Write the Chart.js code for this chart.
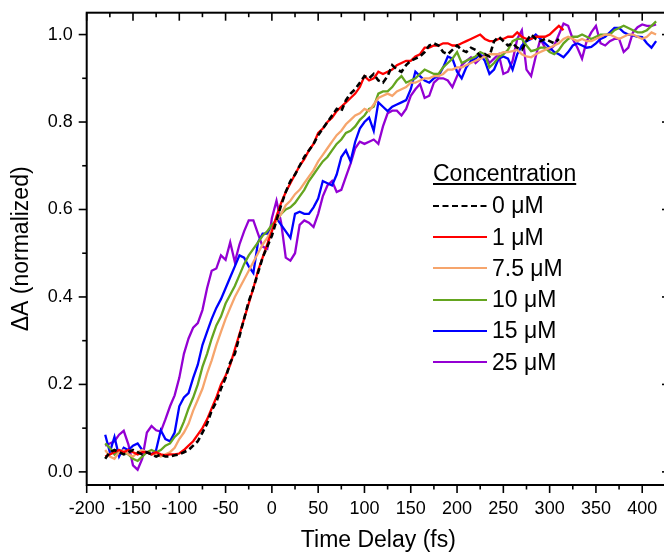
<!DOCTYPE html>
<html lang="en">
<head>
    <meta charset="UTF-8">
    <title>Delta A vs time delay</title>
    <script src="https://cdn.jsdelivr.net/npm/chart.js"></script>
    <style>
        body { margin: 0; background: #ffffff; }
        #wrap { position: relative; width: 664px; height: 554px; overflow: hidden; }
        #chart { position: absolute; left: 0; top: 0; }
        #legend { position: absolute; left: 0; top: 0; font-family: 'Liberation Sans', Arial, sans-serif; font-size: 23px; color: #000; }
        #legend .title { position: absolute; left: 433px; top: 160px; line-height: 27px; text-decoration: underline; text-underline-offset: 2px; white-space: nowrap; }
        #legend .row { position: absolute; left: 433px; height: 27px; display: flex; align-items: center; white-space: nowrap; }
        #legend .row svg { display: block; }
        #legend .row span { margin-left: 5px; line-height: 27px; }
    </style>
</head>
<body>
<div id="wrap">
    <canvas id="chart" width="670" height="554"></canvas>
    <div id="legend"></div>
</div>

<script>
    // sample times (fs)
    const delays = [
        -180, -175, -170, -165, -160, -155, -150, -145, -140, -135,
        -130, -125, -120, -115, -110, -105, -100, -95, -90, -85,
        -80, -75, -70, -65, -60, -55, -50, -45, -40, -35,
        -30, -25, -20, -15, -10, -5, 0, 5, 10, 15,
        20, 25, 30, 35, 40, 45, 50, 55, 60, 65,
        70, 75, 80, 85, 90, 95, 100, 105, 110, 115,
        120, 125, 130, 135, 140, 145, 150, 155, 160, 165,
        170, 175, 180, 185, 190, 195, 200, 205, 210, 215,
        220, 225, 230, 235, 240, 245, 250, 255, 260, 265,
        270, 275, 280, 285, 290, 295, 300, 305, 310, 315,
        320, 325, 330, 335, 340, 345, 350, 355, 360, 365,
        370, 375, 380, 385, 390, 395, 400, 405, 410, 415
    ];

    const conc0 = [
        0.030, 0.045, 0.050, 0.045, 0.040, 0.045, 0.050, 0.045, 0.040, 0.045,
        0.040, 0.035, 0.040, 0.035, 0.035, 0.038, 0.040, 0.045, 0.050, 0.060,
        0.070, 0.090, 0.110, 0.140, 0.160, 0.190, 0.215, 0.250, 0.270, 0.310,
        0.350, 0.390, 0.420, 0.455, 0.490, 0.515, 0.540, 0.575, 0.610, 0.640,
        0.665, 0.680, 0.700, 0.720, 0.735, 0.750, 0.770, 0.785, 0.800, 0.815,
        0.830, 0.825, 0.850, 0.865, 0.875, 0.890, 0.905, 0.900, 0.910, 0.895,
        0.890, 0.905, 0.930, 0.920, 0.915, 0.930, 0.940, 0.945, 0.950, 0.960,
        0.975, 0.980, 0.975, 0.960, 0.955, 0.965, 0.975, 0.965, 0.960, 0.970,
        0.965, 0.950, 0.955, 0.950, 0.985, 0.995, 0.985, 0.975, 0.980, 0.970,
        0.965, 0.985, 1.000, 0.990, 0.985, 0.990, 0.985, 0.980, 0.990, null,
        null, null, null, null, null, null, null, null, null, null,
        null, null, null, null, null, null, null, null, null, null
    ];

    const conc1 = [
        0.035, 0.040, 0.045, 0.050, 0.045, 0.050, 0.045, 0.040, 0.045, 0.045,
        0.040, 0.045, 0.040, 0.038, 0.040, 0.040, 0.042, 0.050, 0.060, 0.070,
        0.085, 0.100, 0.120, 0.145, 0.170, 0.200, 0.220, 0.245, 0.280, 0.315,
        0.350, 0.385, 0.420, 0.460, 0.490, 0.520, 0.550, 0.585, 0.615, 0.640,
        0.660, 0.680, 0.700, 0.715, 0.735, 0.750, 0.775, 0.785, 0.800, 0.810,
        0.825, 0.835, 0.845, 0.855, 0.865, 0.880, 0.905, 0.895, 0.900, 0.915,
        0.910, 0.915, 0.920, 0.930, 0.935, 0.940, 0.940, 0.950, 0.955, 0.970,
        0.970, 0.975, 0.975, 0.980, 0.980, 0.975, 0.975, 0.980, 0.985, 0.990,
        0.995, 1.000, 0.990, 0.985, 0.985, 0.990, 0.990, 0.995, 0.995, 1.005,
        0.995, 0.990, 0.990, 0.995, 0.995, 0.995, 1.000, 1.010, 1.020, 1.010,
        null, null, null, null, null, null, null, null, null, null,
        null, null, null, null, null, null, null, null, null, null
    ];

    const conc7_5 = [
        0.050, 0.035, 0.030, 0.045, 0.050, 0.040, 0.035, 0.045, 0.050, 0.045,
        0.040, 0.040, 0.035, 0.040, 0.045, 0.055, 0.075, 0.090, 0.110, 0.140,
        0.165, 0.190, 0.225, 0.255, 0.290, 0.320, 0.350, 0.375, 0.400, 0.420,
        0.440, 0.460, 0.480, 0.500, 0.520, 0.535, 0.555, 0.575, 0.590, 0.610,
        0.620, 0.635, 0.645, 0.660, 0.675, 0.690, 0.710, 0.725, 0.740, 0.755,
        0.770, 0.780, 0.795, 0.805, 0.815, 0.820, 0.830, 0.825, 0.840, 0.855,
        0.860, 0.865, 0.860, 0.870, 0.875, 0.880, 0.890, 0.890, 0.895, 0.900,
        0.900, 0.905, 0.905, 0.910, 0.920, 0.920, 0.925, 0.925, 0.930, 0.935,
        0.940, 0.945, 0.950, 0.955, 0.955, 0.955, 0.960, 0.960, 0.962, 0.965,
        0.955, 0.950, 0.948, 0.955, 0.960, 0.965, 0.970, 0.975, 0.980, 0.990,
        0.995, 0.990, 0.985, 0.990, 0.985, 0.985, 0.990, 0.995, 1.000, 1.000,
        0.995, 0.990, 0.995, 1.000, 1.000, 0.995, 0.990, 0.995, 1.005, 1.000
    ];

    const conc10 = [
        0.065, 0.055, 0.040, 0.050, 0.045, 0.040, 0.030, 0.025, 0.035, 0.045,
        0.050, 0.045, 0.050, 0.060, 0.065, 0.080, 0.090, 0.115, 0.145, 0.170,
        0.200, 0.240, 0.270, 0.305, 0.335, 0.355, 0.385, 0.405, 0.425, 0.450,
        0.475, 0.495, 0.510, 0.525, 0.540, 0.550, 0.565, 0.575, 0.590, 0.600,
        0.605, 0.615, 0.630, 0.645, 0.665, 0.680, 0.695, 0.710, 0.720, 0.735,
        0.750, 0.760, 0.775, 0.780, 0.790, 0.805, 0.815, 0.830, 0.835, 0.865,
        0.870, 0.870, 0.880, 0.895, 0.905, 0.890, 0.895, 0.900, 0.910, 0.920,
        0.915, 0.910, 0.910, 0.925, 0.935, 0.945, 0.960, 0.935, 0.940, 0.945,
        0.950, 0.960, 0.955, 0.925, 0.935, 0.948, 0.955, 0.965, 0.985, 0.990,
        0.990, 0.975, 0.962, 0.965, 0.970, 0.970, 0.960, 0.955, 0.965, 0.980,
        0.990, 0.995, 0.995, 1.000, 0.995, 0.990, 0.995, 1.000, 1.000, 1.000,
        1.010, 1.015, 1.020, 1.015, 1.010, 1.005, 1.005, 1.010, 1.020, 1.030
    ];

    const conc15 = [
        0.085, 0.045, 0.080, 0.035, 0.055, 0.050, 0.060, 0.065, 0.050, 0.045,
        0.040, 0.050, 0.095, 0.075, 0.070, 0.090, 0.150, 0.170, 0.180, 0.215,
        0.245, 0.290, 0.320, 0.350, 0.375, 0.395, 0.420, 0.445, 0.470, 0.495,
        0.490, 0.470, 0.455, 0.525, 0.545, 0.545, 0.555, 0.580, 0.565, 0.550,
        0.535, 0.590, 0.595, 0.590, 0.590, 0.605, 0.625, 0.665, 0.660, 0.655,
        0.680, 0.720, 0.735, 0.710, 0.755, 0.785, 0.800, 0.810, 0.780, 0.845,
        0.835, 0.825, 0.835, 0.840, 0.845, 0.850, 0.875, 0.915, 0.905, 0.895,
        0.890, 0.900, 0.905, 0.925, 0.950, 0.945, 0.915, 0.900, 0.925, 0.940,
        0.945, 0.955, 0.940, 0.910, 0.920, 0.945, 0.950, 0.945, 0.920, 0.955,
        0.975, 0.985, 0.990, 1.000, 0.990, 0.980, 0.970, 0.960, 0.955, 0.948,
        0.960, 0.975, 0.980, 0.975, 0.970, 0.972, 0.980, 0.990, 0.995, 1.005,
        1.015, 1.015, 1.005, 1.000, 0.998, 0.995, 0.994, 0.980, 0.970, 0.985
    ];

    const conc25 = [
        0.060, 0.065, 0.070, 0.085, 0.094, 0.063, 0.015, 0.005, 0.030, 0.090,
        0.105, 0.095, 0.092, 0.120, 0.150, 0.175, 0.215, 0.270, 0.305, 0.330,
        0.340, 0.370, 0.420, 0.460, 0.465, 0.495, 0.485, 0.525, 0.480, 0.520,
        0.550, 0.575, 0.575, 0.545, 0.515, 0.510, 0.580, 0.620, 0.570, 0.490,
        0.483, 0.500, 0.565, 0.575, 0.570, 0.560, 0.590, 0.630, 0.655, 0.665,
        0.640, 0.645, 0.675, 0.705, 0.740, 0.755, 0.750, 0.755, 0.760, 0.750,
        0.790, 0.820, 0.826, 0.826, 0.815, 0.830, 0.860, 0.875, 0.887, 0.855,
        0.860, 0.890, 0.900, 0.900, 0.895, 0.880, 0.905, 0.930, 0.940, 0.948,
        0.935, 0.945, 0.955, 0.935, 0.945, 0.955, 0.910, 0.915, 0.940, 0.990,
        1.010, 0.920, 0.905, 0.950, 0.990, 0.970, 0.965, 0.975, 1.000, 1.025,
        1.020, 0.990, 0.970, 0.945, 0.985, 1.005, 1.020, 0.980, 0.975, 0.985,
        0.990, 0.990, 0.960, 0.970, 1.005, 1.017, 1.023, 1.020, 1.020, 1.023
    ];

    const seriesLabels = ['0 \u03bcM', '1 \u03bcM', '7.5 \u03bcM', '10 \u03bcM', '15 \u03bcM', '25 \u03bcM'];
    const seriesValues = [conc0, conc1, conc7_5, conc10, conc15, conc25];
    const seriesColors = ['#000000', '#ff0000', '#f6a56c', '#64a51f', '#0000ff', '#9400d3'];

    const xTicks = [-200, -150, -100, -50, 0, 50, 100, 150, 200, 250, 300, 350, 400];
    const yTicks = [0.0, 0.2, 0.4, 0.6, 0.8, 1.0];

    const X_MIN = -200, X_MAX = 430;
    const Y_MIN = -0.03, Y_MAX = 1.05;

    const FONT = "'Liberation Sans', Arial, sans-serif";

    // frame on all four sides with major + minor ticks (out on left/bottom, in on top/right)
    const frameTicks = {
        id: 'frameTicks',
        afterDraw(chart) {
            const { ctx, chartArea: a, scales: { x, y } } = chart;
            const MAJOR = 8, MINOR = 4.5;
            const seg = (x1, y1, x2, y2) => { ctx.beginPath(); ctx.moveTo(x1, y1); ctx.lineTo(x2, y2); ctx.stroke(); };
            ctx.save();
            ctx.strokeStyle = '#000';
            ctx.lineWidth = 1.6;
            const xs = [];
            xTicks.forEach((v, i) => {
                xs.push([v, MAJOR]);
                const next = i < xTicks.length - 1 ? xTicks[i + 1] : v + (v - xTicks[i - 1]);
                xs.push([(v + next) / 2, MINOR]);
            });
            xs.forEach(([v, len]) => {
                if (v < X_MIN || v > X_MAX) return;
                const px = x.getPixelForValue(v);
                seg(px, a.bottom, px, a.bottom + len);
                seg(px, a.top, px, a.top + len);
            });
            const ys = [];
            yTicks.forEach((v, i) => {
                ys.push([v, MAJOR]);
                if (i < yTicks.length - 1) ys.push([(v + yTicks[i + 1]) / 2, MINOR]);
            });
            ys.forEach(([v, len]) => {
                const py = y.getPixelForValue(v);
                seg(a.left - len, py, a.left, py);
                seg(a.right - len, py, a.right, py);
            });
            ctx.lineWidth = 2;
            ctx.strokeRect(a.left, a.top, a.right - a.left, a.bottom - a.top);
            ctx.restore();
        }
    };

    const datasets = seriesValues.map((vals, i) => ({
        label: seriesLabels[i],
        data: delays.map((t, j) => ({ x: t, y: vals[j] })),
        borderColor: seriesColors[i],
        backgroundColor: seriesColors[i],
        borderWidth: i === 0 ? 2.6 : 2.3,
        borderDash: i === 0 ? [6, 3.5] : [],
        pointRadius: 0,
        tension: 0,
        fill: false
    }));

    const chart = new Chart(document.getElementById('chart'), {
        type: 'line',
        data: { datasets },
        options: {
            responsive: false,
            animation: false,
            layout: { padding: { top: 12.7, right: 0, bottom: 0, left: 0 } },
            plugins: { legend: { display: false }, tooltip: { enabled: false } },
            scales: {
                x: {
                    type: 'linear',
                    min: X_MIN,
                    max: X_MAX,
                    grid: { display: false, drawTicks: false },
                    border: { display: false },
                    afterBuildTicks: s => { s.ticks = xTicks.map(v => ({ value: v })); },
                    afterFit: s => { s.height = 69; s.paddingLeft = 0; s.paddingRight = 0; },
                    ticks: {
                        padding: 13,
                        color: '#000',
                        maxRotation: 0,
                        autoSkip: false,
                        font: { family: FONT, size: 18 },
                        callback: v => String(v)
                    },
                    title: {
                        display: true,
                        text: 'Time Delay (fs)',
                        color: '#000',
                        font: { family: FONT, size: 23 },
                        padding: { top: 0, bottom: 0 }
                    }
                },
                y: {
                    min: Y_MIN,
                    max: Y_MAX,
                    grid: { display: false, drawTicks: false },
                    border: { display: false },
                    afterBuildTicks: s => { s.ticks = yTicks.map(v => ({ value: v })); },
                    afterFit: s => { s.width = 86.7; s.paddingTop = 0; s.paddingBottom = 0; },
                    ticks: {
                        padding: 14,
                        color: '#000',
                        autoSkip: false,
                        font: { family: FONT, size: 18 },
                        callback: v => Number(v).toFixed(1)
                    },
                    title: {
                        display: true,
                        text: '\u0394A (normalized)',
                        color: '#000',
                        font: { family: FONT, size: 23 },
                        padding: { top: 8, bottom: 0 }
                    }
                }
            }
        },
        plugins: [frameTicks]
    });

    // legend inside the plot, built from the datasets
    const legend = document.getElementById('legend');
    const head = document.createElement('div');
    head.className = 'title';
    head.textContent = 'Concentration';
    legend.appendChild(head);
    chart.data.datasets.forEach((ds, i) => {
        const row = document.createElement('div');
        row.className = 'row';
        row.style.top = (205.7 + 31.3 * i - 13.5) + 'px';
        const dash = ds.borderDash.length ? ' stroke-dasharray="6 3.5"' : '';
        row.innerHTML = '<svg width="54" height="4"><line x1="0" y1="2" x2="54" y2="2" stroke="' +
            ds.borderColor + '" stroke-width="2"' + dash + '/></svg><span>' + ds.label + '</span>';
        legend.appendChild(row);
    });
</script>
</body>
</html>
